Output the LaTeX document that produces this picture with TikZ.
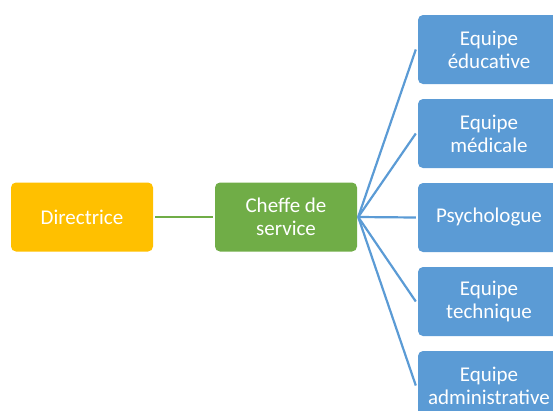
\documentclass[tikz,border=0pt]{standalone}
\usepackage{fontspec}
\setmainfont{Carlito}
\definecolor{gold}{HTML}{FFC000}
\definecolor{leaf}{HTML}{70AD47}
\definecolor{sky}{HTML}{5B9BD5}
\begin{document}
\begin{tikzpicture}[x=1pt,y=-1pt,
  box/.style={rounded corners=5pt,minimum width=142pt,minimum height=69pt,inner sep=0pt,
    text=white,align=center,font=\fontsize{21}{23}\selectfont},
  link/.style={line width=2.2pt}]
\useasboundingbox (0,0) rectangle (553,410);
\clip (0,0) rectangle (553,410);
\node[box,fill=gold] (dir) at (82,217) {Directrice};
\node[box,fill=leaf] (chef) at (286,217) {Cheffe de\\service};
\node[box,fill=sky] (edu) at (489,49.5) {Equipe\\éducative};
\node[box,fill=sky] (med) at (489,133.5) {Equipe\\médicale};
\node[box,fill=sky] (psy) at (489,217.5) {Psychologue};
\node[box,fill=sky] (tec) at (489,301.5) {Equipe\\technique};
\node[box,fill=sky] (adm) at (489,385.5) {Equipe\\administrative};
\draw[link,leaf] ([xshift=2pt]dir.east) -- ([xshift=-2pt]chef.east -| chef.west);
\foreach \t in {edu,med,psy,tec,adm}
  \draw[link,sky] ([xshift=1pt]chef.east) -- ([xshift=-2pt]\t.west);
\end{tikzpicture}
\end{document}
